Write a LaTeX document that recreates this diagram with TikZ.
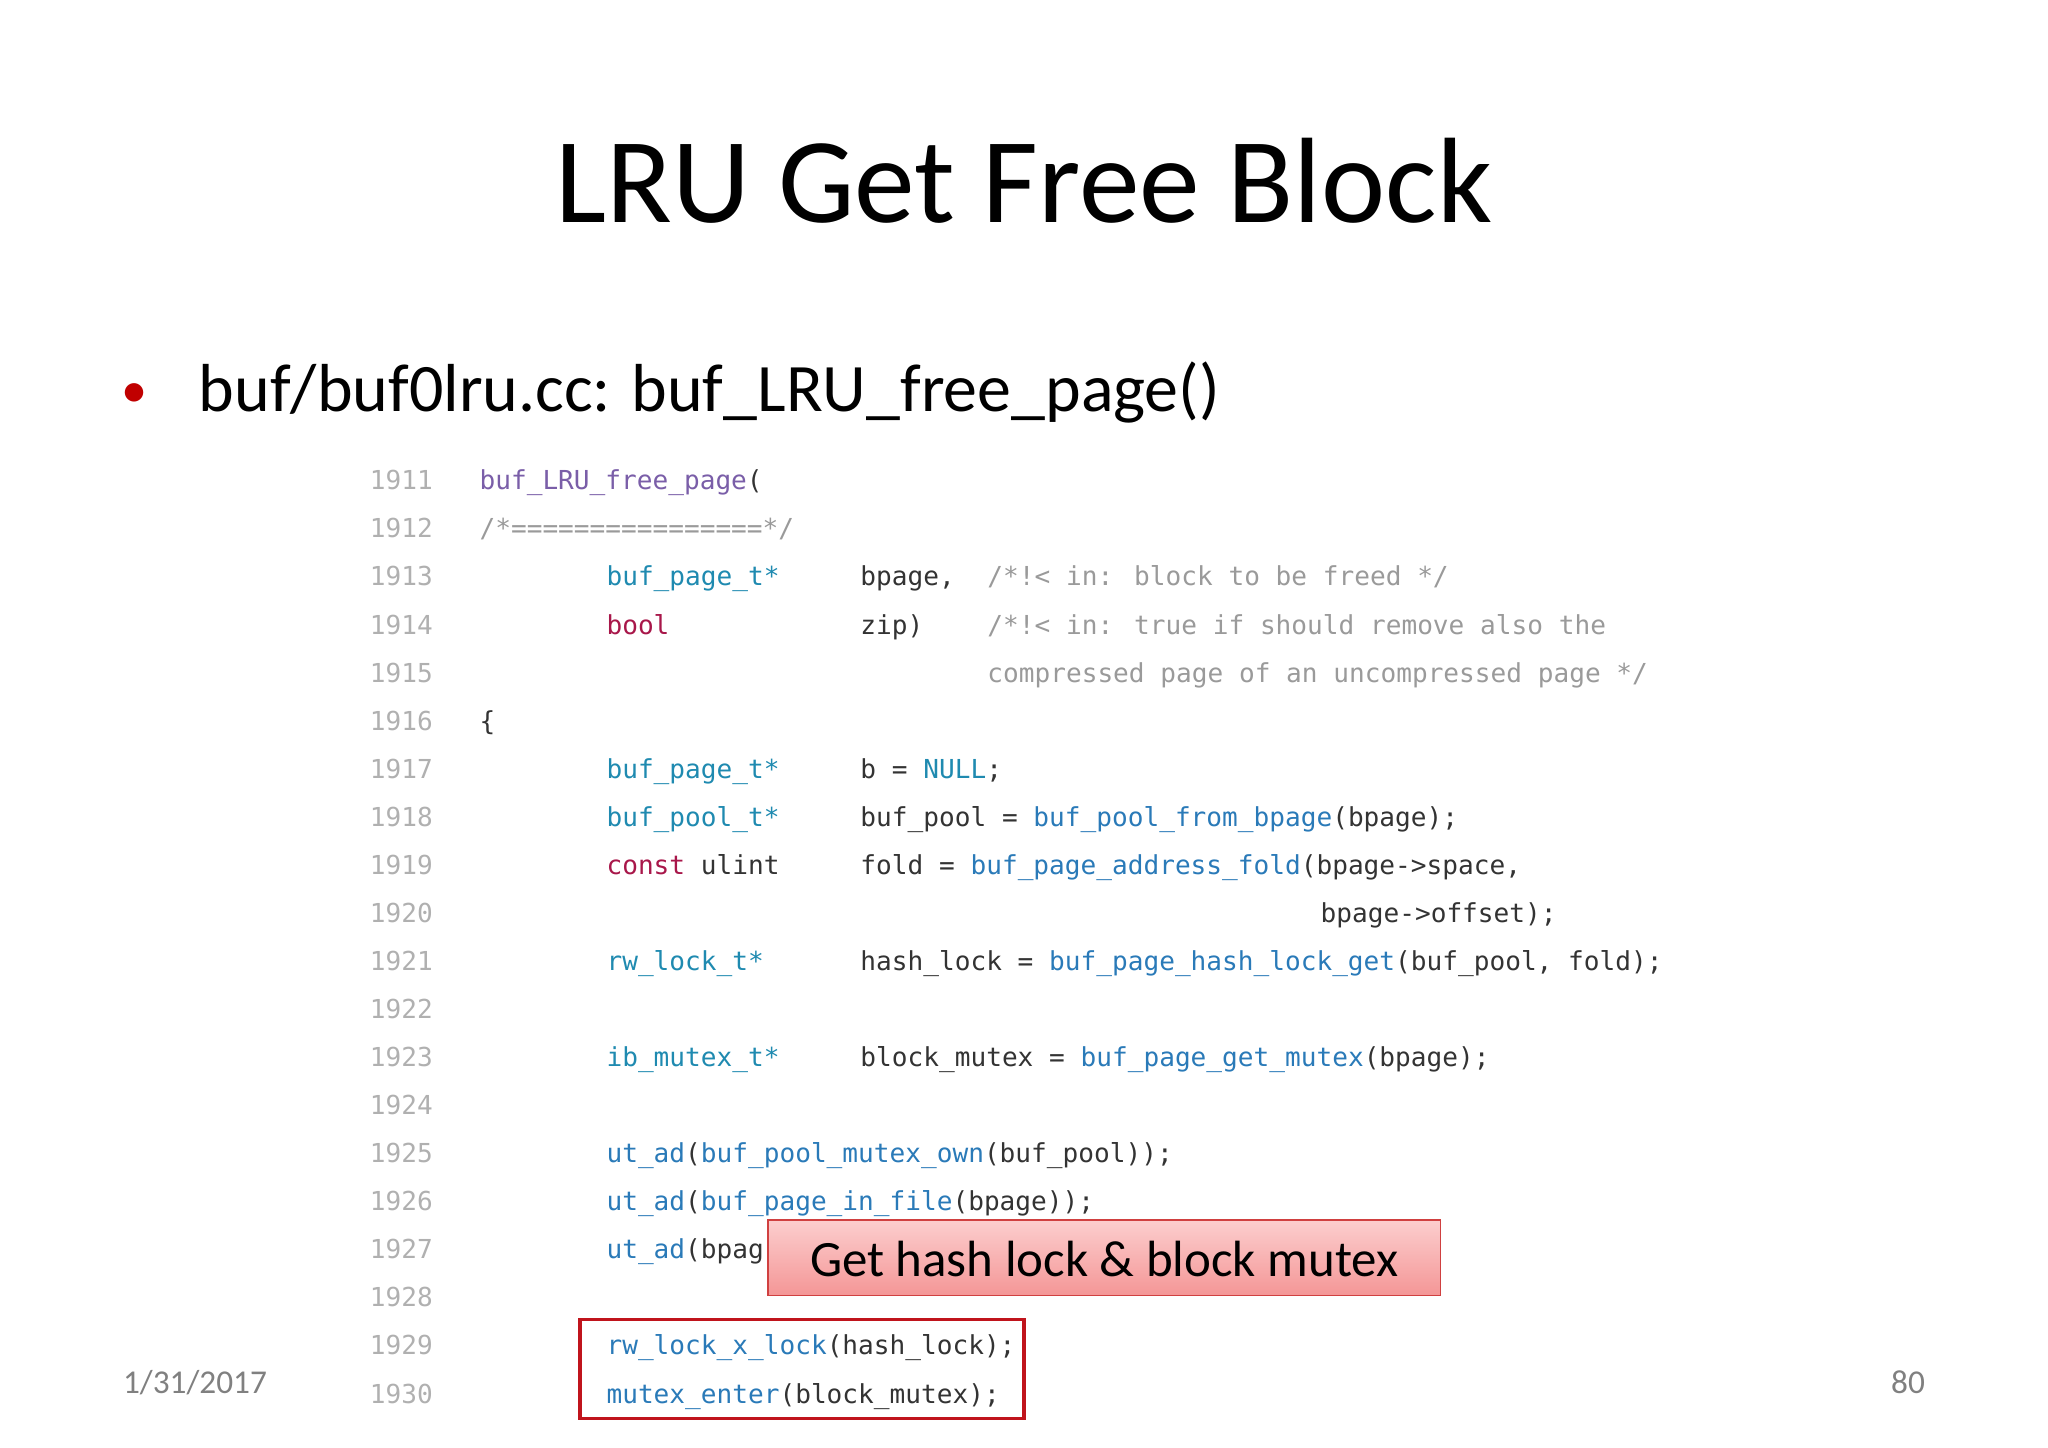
\documentclass[tikz,border=0pt]{standalone}
\usepackage{fontspec}
\setmainfont{Carlito}
\newfontfamily\codefont{DejaVu Sans Mono}
\definecolor{cpur}{HTML}{7A5EA8}
\definecolor{cteal}{HTML}{1F8AB0}
\definecolor{cred}{HTML}{A8174A}
\definecolor{cblue}{HTML}{2A7AB8}
\definecolor{cgray}{HTML}{9A9A9A}
\definecolor{cnum}{HTML}{B0B0B0}
\definecolor{cdark}{HTML}{333333}
\tikzset{codet/.style={anchor=base west,inner sep=0pt,font=\codefont\fontsize{20}{22}\selectfont,text=cdark},
 lnum/.style={anchor=base west,inner sep=0pt,font=\codefont\fontsize{20}{22}\selectfont,text=cnum}}
\newcommand{\cln}[3]{\node[codet] (n#1c#2) at ({367+12.15*#2},{-(375+36.8*#1)}) {#3};}
\begin{document}
\begin{tikzpicture}[x=1pt,y=1pt]
\useasboundingbox (0,0) rectangle (1568,-1108.6);
\node[anchor=base,inner sep=0pt,font=\fontsize{93}{100}\selectfont] (title) at (784,-170) {LRU Get Free Block};
\node[anchor=base,inner sep=0pt,text={rgb,255:red,192;green,0;blue,0},font=\fontsize{40}{44}\selectfont] (bul) at (103,-312) {\textbullet};
\node[anchor=base west,inner sep=0pt,font=\fontsize{52}{58}\selectfont] (sub) at (152,-315) {buf/buf0lru.cc: buf\_LRU\_free\_page()};
\foreach \i in {0,...,19}{
  \pgfmathtruncatemacro{\n}{1911+\i}
  \node[lnum] (ln\i) at (283,{-(375+36.8*\i)}) {\n};
}
\cln{0}{0}{\textcolor{cpur}{buf\_LRU\_free\_page}(}
\cln{1}{0}{\textcolor{cgray}{/*================*/}}
\cln{2}{8}{\textcolor{cteal}{buf\_page\_t*}}
\cln{2}{24}{bpage,}
\cln{2}{32}{\textcolor{cgray}{/*!< in: block to be freed */}}
\cln{3}{8}{\textcolor{cred}{bool}}
\cln{3}{24}{zip)}
\cln{3}{32}{\textcolor{cgray}{/*!< in: true if should remove also the}}
\cln{4}{32}{\textcolor{cgray}{compressed page of an uncompressed page */}}
\cln{5}{0}{\{}
\cln{6}{8}{\textcolor{cteal}{buf\_page\_t*}}
\cln{6}{24}{b = \textcolor{cteal}{NULL};}
\cln{7}{8}{\textcolor{cteal}{buf\_pool\_t*}}
\cln{7}{24}{buf\_pool = \textcolor{cblue}{buf\_pool\_from\_bpage}(bpage);}
\cln{8}{8}{\textcolor{cred}{const} ulint}
\cln{8}{24}{fold = \textcolor{cblue}{buf\_page\_address\_fold}(bpage->space,}
\cln{9}{53}{bpage->offset);}
\cln{10}{8}{\textcolor{cteal}{rw\_lock\_t*}}
\cln{10}{24}{hash\_lock = \textcolor{cblue}{buf\_page\_hash\_lock\_get}(buf\_pool, fold);}
\cln{12}{8}{\textcolor{cteal}{ib\_mutex\_t*}}
\cln{12}{24}{block\_mutex = \textcolor{cblue}{buf\_page\_get\_mutex}(bpage);}
\cln{14}{8}{\textcolor{cblue}{ut\_ad}(\textcolor{cblue}{buf\_pool\_mutex\_own}(buf\_pool));}
\cln{15}{8}{\textcolor{cblue}{ut\_ad}(\textcolor{cblue}{buf\_page\_in\_file}(bpage));}
\cln{16}{8}{\textcolor{cblue}{ut\_ad}(bpag}
\cln{18}{8}{\textcolor{cblue}{rw\_lock\_x\_lock}(hash\_lock);}
\cln{19}{8}{\textcolor{cblue}{mutex\_enter}(block\_mutex);}
\node[draw={rgb,255:red,192;green,20;blue,28},line width=2.5pt,minimum width=340pt,minimum height=76pt,inner sep=0pt] (hl) at (614,-1048) {};
\node[draw={rgb,255:red,208;green,64;blue,64},line width=1.2pt,top color={rgb,255:red,252;green,206;blue,206},bottom color={rgb,255:red,244;green,150;blue,150},minimum width=515pt,minimum height=58pt,inner sep=0pt] (box) at (845.5,-963) {};
\node[anchor=base west,inner sep=0pt,font=\fontsize{39}{43}\selectfont] (boxt) at (620,-977) {Get hash lock \& block mutex};
\node[anchor=base west,inner sep=0pt,text=gray,font=\fontsize{25.5}{28}\selectfont] (date) at (94,-1067) {1/31/2017};
\node[anchor=base east,inner sep=0pt,text=gray,font=\fontsize{25.5}{28}\selectfont] (pg) at (1474,-1067) {80};
\end{tikzpicture}
\end{document}
